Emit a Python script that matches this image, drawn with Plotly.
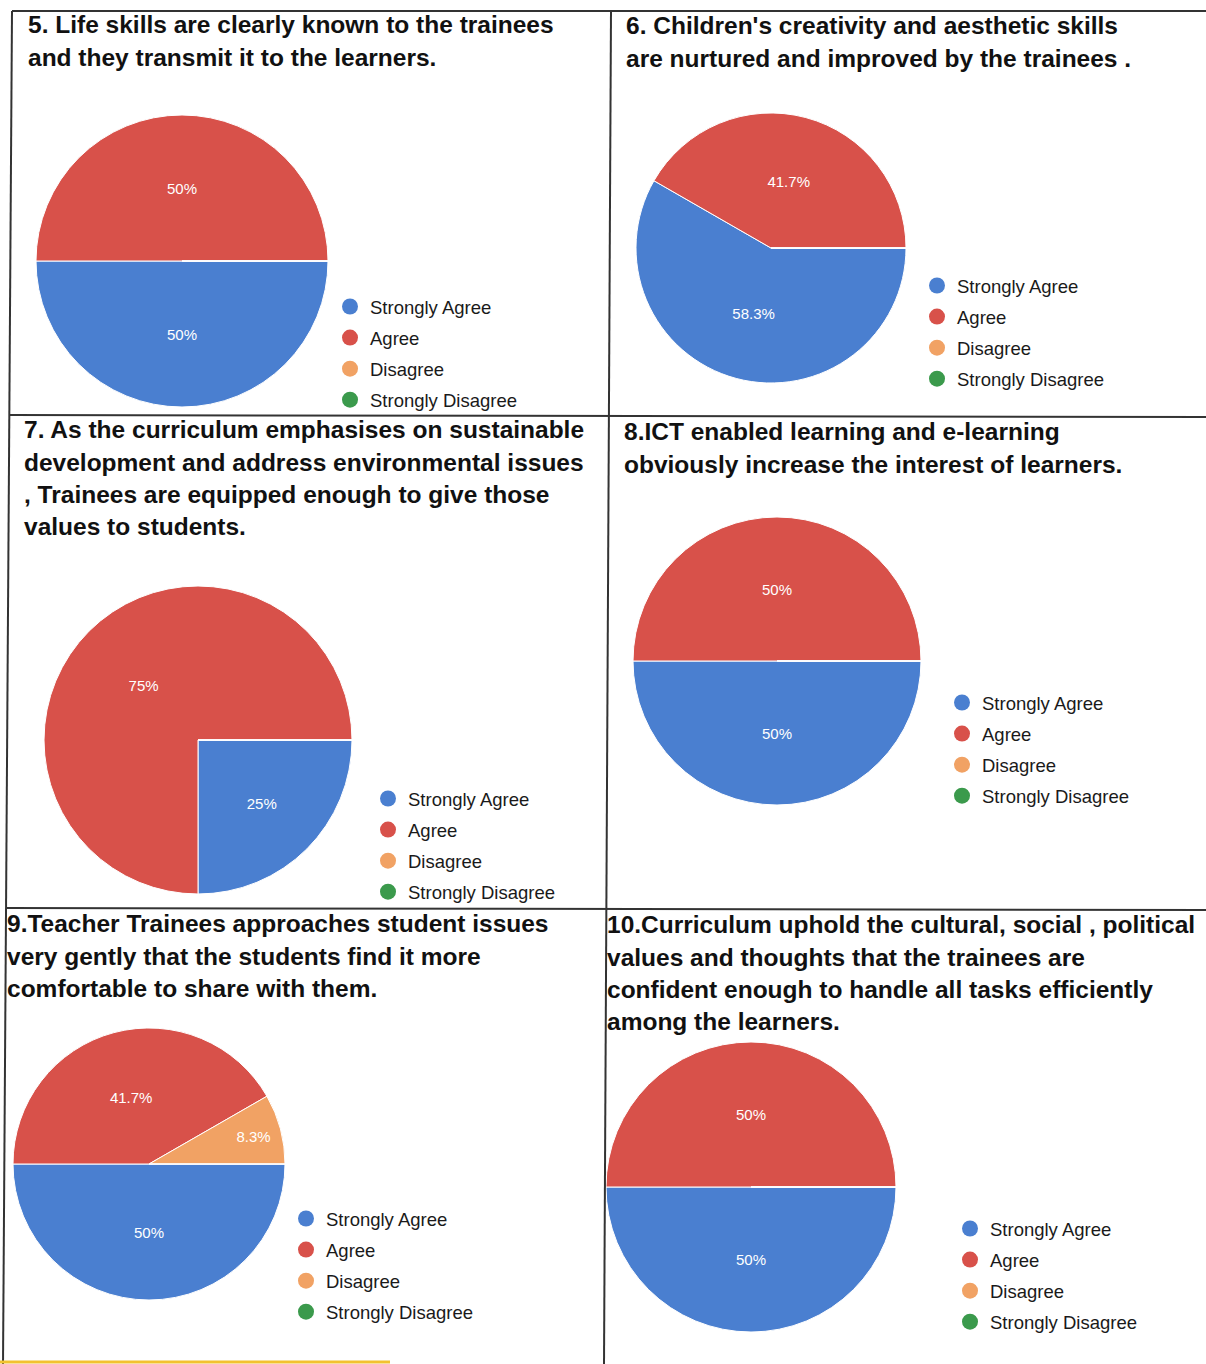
import plotly.graph_objects as go

W, H = 1206, 1364

labels = ["Strongly Agree", "Agree", "Disagree", "Strongly Disagree"]
colors = ["#4a7fd0", "#d8514a", "#f1a264", "#3b9a4c"]

# percentage of responses per statement (Strongly Agree, Agree, Disagree, Strongly Disagree)
q5 = [50, 50, 0, 0]
q6 = [58.3, 41.7, 0, 0]
q7 = [25, 75, 0, 0]
q8 = [50, 50, 0, 0]
q9 = [50, 41.7, 8.3, 0]
q10 = [50, 50, 0, 0]

titles = [
    ["5. Life skills are clearly known to the trainees",
     "and they transmit it to the learners."],
    ["6. Children's creativity and aesthetic skills",
     "are nurtured and improved by the trainees ."],
    ["7. As the curriculum emphasises on sustainable",
     "development and address environmental issues",
     ", Trainees are equipped enough to give those",
     "values to students."],
    ["8.ICT enabled learning and e-learning",
     "obviously increase the interest of learners."],
    ["9.Teacher Trainees approaches student issues",
     "very gently that the students find it more",
     "comfortable to share with them."],
    ["10.Curriculum uphold the cultural, social , political",
     "values and thoughts that the trainees are",
     "confident enough to handle all tasks efficiently",
     "among the learners."],
]

data = [q5, q6, q7, q8, q9, q10]

# layout in pixels: pie centre/radius, title start, legend marker position
pies = [(182, 261, 146), (771, 248, 135), (198, 740, 154),
        (777, 661, 144), (149, 1164, 136), (751, 1187, 145)]
title_pos = [(26, 25), (624, 26), (22, 430), (622, 432), (5, 924), (605, 925)]
legend_pos = [(350, 307), (937, 286), (388, 799), (962, 703), (306, 1219), (970, 1229)]

FONT = "Liberation Sans, Arial, sans-serif"

fig = go.Figure()
annotations = []
legends = {}

for i, vals in enumerate(data):
    cx, cy, r = pies[i]
    fig.add_trace(go.Pie(
        labels=labels,
        values=vals,
        text=[f"{v:g}%" if v else "" for v in vals],
        textinfo="text",
        textposition="inside",
        insidetextorientation="horizontal",
        textfont=dict(color="white", size=15, family=FONT),
        marker=dict(colors=colors, line=dict(color="white", width=1)),
        sort=False,
        direction="clockwise",
        rotation=90,
        showlegend=False,
        hoverinfo="label+percent",
        domain=dict(x=[(cx - r) / W, (cx + r) / W],
                    y=[1 - (cy + r) / H, 1 - (cy - r) / H]),
    ))

    leg = "legend" if i == 0 else f"legend{i + 1}"
    for lab, col in zip(labels, colors):
        fig.add_trace(go.Scatter(
            x=[None], y=[None], mode="markers", name=lab,
            marker=dict(size=16, color=col),
            legend=leg, legendgroup=f"{i}-{lab}", showlegend=True,
        ))
    lx, ly = legend_pos[i]
    legends[leg] = dict(
        x=(lx - 20) / W, y=1 - (ly - 19) / H, xanchor="left", yanchor="top",
        font=dict(size=18.5, color="#1a1a1a", family=FONT),
        bgcolor="rgba(0,0,0,0)", tracegroupgap=4, itemclick=False,
    )

    tx, ty = title_pos[i]
    for k, line in enumerate(titles[i]):
        annotations.append(dict(
            x=tx / W, y=1 - (ty + k * 32.3) / H, xref="paper", yref="paper",
            xanchor="left", yanchor="middle", showarrow=False, text=f"<b>{line}</b>",
            font=dict(size=24.5, color="#111", family=FONT),
        ))

# table borders of the scanned page
shapes = []
grid = [((12, 11), (1206, 11)), ((10, 415), (1206, 417)), ((6, 908), (1206, 910)),
        ((12, 11), (3, 1364)), ((611, 11), (604, 1364))]
for (x0, y0), (x1, y1) in grid:
    shapes.append(dict(type="line", xref="paper", yref="paper",
                       x0=x0 / W, y0=1 - y0 / H, x1=x1 / W, y1=1 - y1 / H,
                       line=dict(color="#333", width=2)))
shapes.append(dict(type="line", xref="paper", yref="paper",
                   x0=0, y0=1 - 1362 / H, x1=390 / W, y1=1 - 1362 / H,
                   line=dict(color="#f2c230", width=3)))

fig.update_layout(
    width=W, height=H,
    margin=dict(l=0, r=0, t=0, b=0),
    paper_bgcolor="white", plot_bgcolor="white",
    xaxis=dict(visible=False), yaxis=dict(visible=False),
    annotations=annotations, shapes=shapes,
    **legends,
)

fig.write_html("out.html", config={"displayModeBar": False},
               post_script="document.body.style.margin='0';")
